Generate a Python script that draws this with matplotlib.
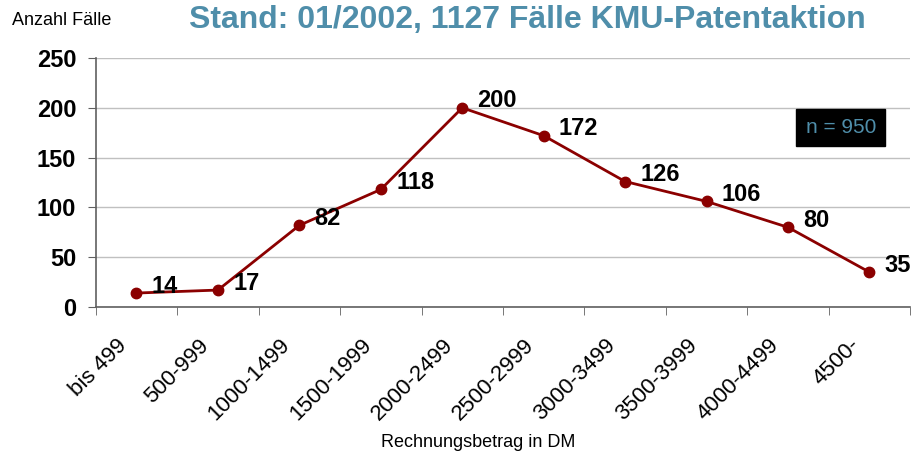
import matplotlib
matplotlib.use("Agg")
from matplotlib import pyplot
from matplotlib.transforms import ScaledTranslation
import numpy

pyplot.rcParams['font.family'] = ['Liberation Sans', 'DejaVu Sans']

# DATA
categories = ['bis 499', '500-999', '1000-1499', '1500-1999', '2000-2499',
              '2500-2999', '3000-3499', '3500-3999', '4000-4499', '4500-']
cases = [14, 17, 82, 118, 200, 172, 126, 106, 80, 35]
y_ticks = [0, 50, 100, 150, 200, 250]

title_blue = '#4F8EAA'
line_red = '#8B0000'

canvas = pyplot.figure(figsize=(9.12, 4.55), dpi=100)
axes = canvas.add_axes([0.105, 0.3253, 0.893, 0.5472])

x = numpy.arange(len(categories))
axes.plot(x, cases, color=line_red, lw=2, marker='o', markersize=7.5)

for xi, v in zip(x, cases):
    axes.annotate(str(v), (xi, v), xytext=(11, 5), textcoords='offset points',
                  fontsize=17, fontweight='bold', ha='left', va='center',
                  annotation_clip=False)

axes.set_xlim(-0.5, len(categories) - 0.5)
axes.set_ylim(0, 250)
axes.set_yticks(y_ticks)
axes.set_yticklabels([str(t) for t in y_ticks], fontsize=17, fontweight='bold')
axes.yaxis.grid(True, color='#c0c0c0', lw=1)
axes.set_axisbelow(True)

# tick marks at the category boundaries, labels at the centres
axes.set_xticks(numpy.arange(len(categories) + 1) - 0.5, minor=True)
axes.set_xticks(x)
axes.set_xticklabels(categories, rotation=45, ha='right', rotation_mode='anchor',
                     fontsize=16)
axes.tick_params(axis='x', which='major', length=0, pad=20)
axes.tick_params(axis='x', which='minor', length=6, color='#606060')
axes.tick_params(axis='y', length=6, color='#606060', pad=8)
shift = ScaledTranslation(-14.5 / 72, 0, canvas.dpi_scale_trans)
for lbl in axes.get_xticklabels():
    lbl.set_transform(lbl.get_transform() + shift)

for side in ['top', 'right']:
    axes.spines[side].set_visible(False)
for side in ['left', 'bottom']:
    axes.spines[side].set_color('#606060')
    axes.spines[side].set_linewidth(1.2)

canvas.text(0.578, 0.955, 'Stand: 01/2002, 1127 Fälle KMU-Patentaktion', color=title_blue,
            fontsize=23, fontweight='bold', ha='center', va='center')
canvas.text(0.013, 0.955, 'Anzahl Fälle', fontsize=13, ha='left', va='center')
canvas.text(0.524, 0.027, 'Rechnungsbetrag in DM', fontsize=13, ha='center', va='center')
canvas.text(0.922, 0.72, 'n = 950', color=title_blue, fontsize=15, ha='center', va='center',
            bbox=dict(boxstyle='square,pad=0.45', facecolor='black', edgecolor='black'))

pyplot.savefig('out.png', dpi=100)
